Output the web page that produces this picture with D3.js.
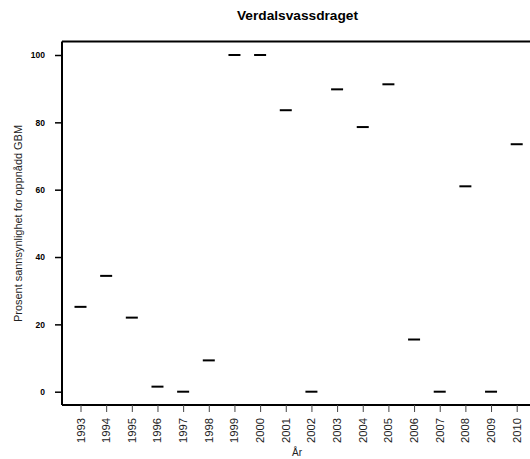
<!DOCTYPE html>
<html><head><meta charset="utf-8">
<script src="https://cdn.jsdelivr.net/npm/d3@7"></script>
<style>body{margin:0;background:#fff}svg{display:block}</style>
</head><body>
<script>
const years = ["1993","1994","1995","1996","1997","1998","1999","2000","2001","2002","2003","2004","2005","2006","2007","2008","2009","2010"];
const values = [25.2,34.4,22.0,1.5,0,9.3,100,100,83.6,0,89.8,78.6,91.3,15.5,0,61.0,0,73.5];
const yTicks = [0,20,40,60,80,100];
const title = "Verdalsvassdraget";
const xLabel = "År";
const yLabel = "Prosent sannsynlighet for oppnådd GBM";

(function(){
const W=530,H=459;
const svg=d3.select("body").append("svg").attr("width",W).attr("height",H);
const pL=62, pR=530, pT=41.5, pB=405;
const x=d3.scalePoint().domain(years).range([80.5,516.7]);
const y=d3.scaleLinear().domain([0,100]).range([391.7,55]);
const font="Liberation Sans, Arial, sans-serif";

svg.append("line").attr("x1",pL).attr("x2",pL).attr("y1",pT).attr("y2",pB).attr("stroke","#000").attr("stroke-width",2);
svg.append("line").attr("x1",pL).attr("x2",pR).attr("y1",pT).attr("y2",pT).attr("stroke","#000").attr("stroke-width",2);
svg.append("line").attr("x1",pL).attr("x2",pR).attr("y1",pB).attr("y2",pB).attr("stroke","#000").attr("stroke-width",2);

const ya=svg.append("g").attr("transform",`translate(${pL},0)`)
  .call(d3.axisLeft(y).tickValues(yTicks).tickSize(7).tickPadding(10));
ya.select(".domain").remove();
ya.selectAll(".tick line").attr("stroke","#000").attr("stroke-width",1.5);
ya.selectAll(".tick text").attr("font-family",font).attr("font-size",8.5).attr("font-weight","bold").attr("fill","#000");

const xa=svg.append("g").attr("transform",`translate(0,${pB})`)
  .call(d3.axisBottom(x).tickSize(7).tickPadding(4));
xa.select(".domain").remove();
xa.selectAll(".tick line").attr("stroke","#444").attr("stroke-width",1);
xa.selectAll(".tick text").attr("font-family",font).attr("font-size",10).attr("fill","#222")
  .attr("transform","rotate(-90)").attr("text-anchor","end").attr("dy","0.35em").attr("x",-13).attr("y",0)
  .attr("textLength",25).attr("lengthAdjust","spacingAndGlyphs");

svg.append("g").selectAll("line.m").data(years).join("line")
  .attr("x1",d=>x(d)-6).attr("x2",d=>x(d)+6)
  .attr("y1",(d,i)=>y(values[i])).attr("y2",(d,i)=>y(values[i]))
  .attr("stroke","#000").attr("stroke-width",2);

svg.append("text").attr("x",297.5).attr("y",20).attr("text-anchor","middle")
  .attr("font-family",font).attr("font-size",12).attr("font-weight","bold")
  .attr("textLength",121).attr("lengthAdjust","spacingAndGlyphs").text(title);
svg.append("text").attr("x",297).attr("y",456).attr("text-anchor","middle")
  .attr("font-family",font).attr("font-size",10).attr("fill","#222").text(xLabel);
svg.append("text").attr("transform","translate(21.5,223.5) rotate(-90)").attr("text-anchor","middle")
  .attr("font-family",font).attr("font-size",10).attr("fill","#222")
  .attr("textLength",197).attr("lengthAdjust","spacingAndGlyphs").text(yLabel);
})();
</script>
</body></html>
